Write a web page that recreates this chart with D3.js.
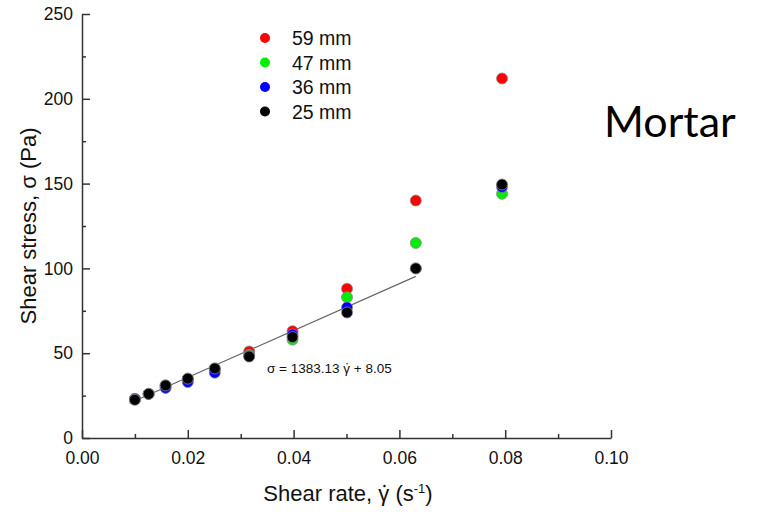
<!DOCTYPE html>
<html>
<head>
<meta charset="utf-8">
<script src="https://cdn.jsdelivr.net/npm/d3@7"></script>
<style>
body{margin:0;background:#fff;}
text{font-family:"Liberation Sans",Arial,sans-serif;fill:#111;}
</style>
</head>
<body>
<svg id="chart" width="759" height="512"></svg>
<script>
// shear rates (1/s) and stress (Pa) for each gap
const rates=[0.01,0.0126,0.0158,0.02,0.0251,0.0316,0.0398,0.0501,0.0631,0.0794];
const s59=[23,26,31,35,41,51,63,88,140,212];
const s47=[23,26,30,34,40,49,58,83,115,144];
const s36=[23,26,29.5,33,38.5,48.5,61,77,100,148];
const s25=[22.5,26,31,35,41,48,59.5,74,100,149.5];
const seriesNames=['59 mm','47 mm','36 mm','25 mm'];
const seriesColors=['#ff0000','#00ee00','#0000ff','#000000'];
const xTicks=[0,0.02,0.04,0.06,0.08,0.10];
const yTicks=[0,50,100,150,200,250];
const fitSlope=1383.13, fitIntercept=8.05, fitRange=[0.009,0.0631];

const svg=d3.select('#chart');
const x=d3.scaleLinear().domain([0,0.1]).range([82,611]);
const y=d3.scaleLinear().domain([0,250]).range([438,14]);

// put the rate dot over the gamma of a text (baseline, font size given)
function dotGamma(t,base,fs){
  const node=t.node();
  const idx=node.textContent.indexOf('γ');
  const ext=node.getExtentOfChar(idx);
  svg.append('circle').attr('cx',ext.x+ext.width/2+fs*0.03).attr('cy',base-fs*0.68)
    .attr('r',fs*0.055).attr('fill','#111');
}

// minor ticks first, then major ones, both pointing inward
const xAxisMinor=d3.axisTop(x).tickValues(d3.range(0.01,0.1,0.02)).tickSize(4).tickFormat('');
const yAxisMinor=d3.axisRight(y).tickValues(d3.range(25,250,50)).tickSize(4).tickFormat('');
svg.append('g').attr('transform','translate(0,438)').call(xAxisMinor).call(g=>g.select('.domain').remove());
svg.append('g').attr('transform','translate(82,0)').call(yAxisMinor).call(g=>g.select('.domain').remove());

const xAxis=d3.axisTop(x).tickValues(xTicks).tickSize(8).tickSizeOuter(0).tickFormat(d3.format('.2f'));
const gx=svg.append('g').attr('transform','translate(0,438)').call(xAxis);
gx.selectAll('.tick text').attr('y',14).attr('dy','0.71em').style('font-size','17.5px');

const yAxis=d3.axisRight(y).tickValues(yTicks).tickSize(8).tickSizeOuter(0);
const gy=svg.append('g').attr('transform','translate(82,0)').call(yAxis);
gy.selectAll('.tick text').attr('x',-9).attr('text-anchor','end').style('font-size','17.5px');

svg.selectAll('.domain,.tick line').attr('stroke','#333').attr('stroke-width',1.5);

// fitted line
svg.append('line')
  .attr('x1',x(fitRange[0])).attr('y1',y(fitSlope*fitRange[0]+fitIntercept))
  .attr('x2',x(fitRange[1])).attr('y2',y(fitSlope*fitRange[1]+fitIntercept))
  .attr('stroke','#666').attr('stroke-width',1.2);

const eq=svg.append('text').attr('x',267).attr('y',373).style('font-size','13.5px')
  .text('σ = 1383.13 γ + 8.05');
dotGamma(eq,373,13.5);

// points, black series last so it sits on top
const allSeries=[s59,s47,s36,s25];
allSeries.forEach((vals,i)=>{
  svg.append('g').selectAll('circle').data(vals).join('circle')
    .attr('cx',(d,j)=>x(rates[j])).attr('cy',d=>y(d)).attr('r',5.5)
    .attr('fill',seriesColors[i]).attr('stroke','#888').attr('stroke-width',0.8);
});

// legend
const legend=svg.append('g').attr('transform','translate(265,38)');
seriesNames.forEach((n,i)=>{
  legend.append('circle').attr('cx',0).attr('cy',i*24.5).attr('r',5).attr('fill',seriesColors[i]);
  legend.append('text').attr('x',27).attr('y',i*24.5).attr('dy','0.36em').style('font-size','19.5px').text(n);
});

// axis titles
const xt=svg.append('text').attr('x',348).attr('y',501).attr('text-anchor','middle').style('font-size','22px');
xt.append('tspan').text('Shear rate, γ (s');
xt.append('tspan').attr('dy',-8).style('font-size','13px').text('-1');
xt.append('tspan').attr('dy',8).text(')');
dotGamma(xt,501,22);

svg.append('text').attr('transform','translate(36,226) rotate(-90)').attr('text-anchor','middle')
  .style('font-size','22px').text('Shear stress, σ (Pa)');

svg.append('text').attr('x',604).attr('y',137).style('font-family','Lato, sans-serif')
  .style('font-size','43px').style('fill','#000').text('Mortar');
</script>
</body>
</html>
